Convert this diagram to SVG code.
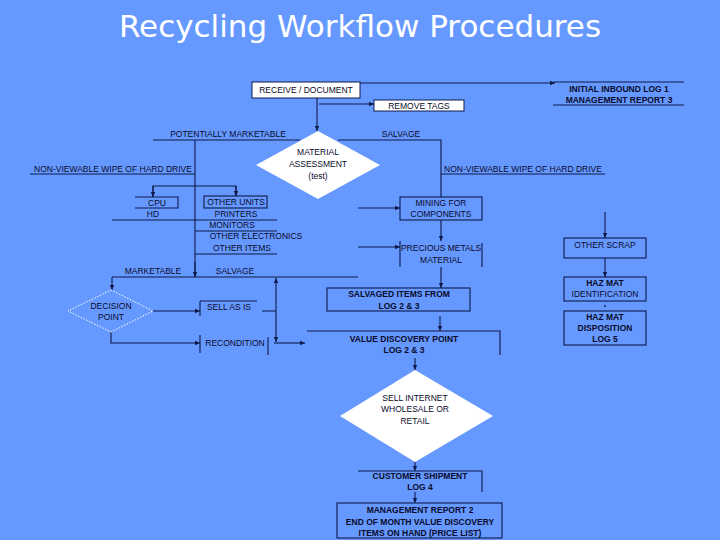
<svg xmlns="http://www.w3.org/2000/svg" width="720" height="540" viewBox="0 0 720 540">
<defs>
<marker id="a" markerWidth="6" markerHeight="6" refX="5" refY="3" orient="auto" markerUnits="userSpaceOnUse"><path d="M0,0.8 L5,3 L0,5.2z" fill="#0d1a4a"/></marker>
<style>
text{font-family:"Liberation Sans",Arial,sans-serif;font-size:8.5px;fill:#0a0a2a;text-anchor:middle}
.b{font-weight:bold}
.l{stroke:#0d1a4a;stroke-width:1.1;fill:none}
.ar{marker-end:url(#a)}
.bx{fill:none;stroke:#0d1a4a;stroke-width:1.1}
.wb{fill:#fff;stroke:#0d1a4a;stroke-width:1}
</style>
</defs>
<rect width="720" height="540" fill="#6699ff"/>
<text x="360" y="37" style="font-family:'DejaVu Sans',sans-serif;font-size:31px;fill:#fff">Recycling Workflow Procedures</text>
<g id="connectors">
<path class="l ar" d="M360,83 H555"/>
<path class="l" d="M553,82 H684 M553,105 H684"/>
<path class="l ar" d="M319,104 H374"/>
<path class="l ar" d="M317,98 V131"/>
<path class="l" d="M153,140 H300 M338,140 H441 V197"/>
<path class="l" d="M441,174 H605 M30,174 H195 M195,140 V277"/>
<path class="l" d="M153,197 V186 H236 V196"/>
<path class="l ar" d="M153,186 V197"/><path class="l ar" d="M236,186 V196"/>
<path class="l" d="M112,220 H195 M195,220 H277 M195,231 H277 M195,254 H277"/>
<path class="l" d="M112,277 H358"/>
<path class="l ar" d="M195,262 V277"/>
<path class="l ar" d="M112,277 V290"/>
<path class="l ar" d="M276,310 V278"/><path class="l ar" d="M276,310 V342"/>
<path class="l ar" d="M153,311 H200"/>
<path class="l" d="M200,301 V316 M200,301 H257 M262,311 H276"/>
<path class="l ar" d="M111,332 V343 H200"/>
<path class="l" d="M200,335 V353 M268,337 V355"/>
<path class="l ar" d="M274,343 H305"/>
<path class="l" d="M307,331 H500 V355"/>
<path class="l ar" d="M440,316 V331"/>
<path class="l ar" d="M358,208 H400"/>
<path class="l ar" d="M441,220 V241"/>
<path class="l ar" d="M358,247 H400"/>
<path class="l" d="M400,241 V267 M482,243 V267"/>
<path class="l ar" d="M441,267 V288"/>
<path class="l ar" d="M605,212 V238"/>
<path class="l ar" d="M605,258 V277"/>
<circle cx="605" cy="306" r="0.9" fill="#0d1a4a"/>
<path class="l ar" d="M415,358 V370"/>
<path class="l ar" d="M415,462 V471"/>
<path class="l" d="M358,471 H482 V492"/>
<path class="l ar" d="M415,492 V503"/>
</g>
<g id="receive"><rect class="wb" x="252" y="82" width="108" height="16"/><text x="306" y="93">RECEIVE / DOCUMENT</text></g>
<g id="inbound"><text class="b" x="619" y="92">INITIAL INBOUND LOG 1</text><text class="b" x="619" y="103">MANAGEMENT REPORT 3</text></g>
<g id="tags"><rect class="wb" x="374" y="100" width="90" height="11"/><text x="419" y="109">REMOVE TAGS</text></g>
<g id="assess"><path d="M318,131 L380,165 L318,199 L256,165z" fill="#fff"/><text x="318" y="155">MATERIAL</text><text x="318" y="167">ASSESSMENT</text><text x="318" y="179">(test)</text></g>
<g id="labels"><text x="228" y="137">POTENTIALLY MARKETABLE</text><text x="401" y="137">SALVAGE</text>
<text x="113" y="172">NON-VIEWABLE WIPE OF HARD DRIVE</text><text x="523" y="172">NON-VIEWABLE WIPE OF HARD DRIVE</text>
<text x="153" y="274">MARKETABLE</text><text x="235" y="274">SALVAGE</text></g>
<g id="cpu"><path class="l" d="M135,197 H178 V208 H135"/><text x="157" y="206">CPU</text><text x="153" y="217">HD</text></g>
<g id="units"><rect class="bx" x="204" y="196" width="63" height="12"/><text x="236" y="205">OTHER UNITS</text>
<text x="236" y="217">PRINTERS</text><text x="232" y="228">MONITORS</text><text x="256" y="239">OTHER ELECTRONICS</text><text x="242" y="251">OTHER ITEMS</text></g>
<g id="decision"><path d="M111,290 L153,311 L111,332 L68,311z" fill="none" stroke="#fff" stroke-dasharray="1.5,1.5"/><text x="111" y="309">DECISION</text><text x="111" y="320">POINT</text></g>
<g id="sell"><text x="229" y="310">SELL AS IS</text></g>
<g id="recond"><text x="235" y="346">RECONDITION</text></g>
<g id="mining"><rect class="bx" x="400" y="197" width="82" height="23"/><text x="441" y="206">MINING FOR</text><text x="441" y="217">COMPONENTS</text></g>
<g id="precious"><text x="441" y="251">PRECIOUS METALS</text><text x="441" y="263">MATERIAL</text></g>
<g id="salvaged"><rect class="bx" x="327" y="288" width="143" height="23"/><text class="b" x="399" y="297">SALVAGED ITEMS FROM</text><text class="b" x="399" y="309">LOG 2 &amp; 3</text></g>
<g id="value"><text class="b" x="404" y="342">VALUE DISCOVERY POINT</text><text class="b" x="404" y="353">LOG 2 &amp; 3</text></g>
<g id="scrap"><rect class="bx" x="564" y="238" width="82" height="20"/><text x="605" y="248">OTHER SCRAP</text></g>
<g id="hazid"><rect class="bx" x="564" y="277" width="82" height="24"/><text class="b" x="605" y="286">HAZ MAT</text><text x="605" y="297">IDENTIFICATION</text></g>
<g id="hazdisp"><rect class="bx" x="564" y="311" width="82" height="34"/><text class="b" x="605" y="320">HAZ MAT</text><text class="b" x="605" y="331">DISPOSITION</text><text class="b" x="605" y="342">LOG 5</text></g>
<g id="sellnet"><path d="M415,370 L493,416 L415,462 L340,416z" fill="#fff"/><text x="415" y="401">SELL INTERNET</text><text x="415" y="412">WHOLESALE OR</text><text x="415" y="424">RETAIL</text></g>
<g id="ship"><text class="b" x="420" y="479">CUSTOMER SHIPMENT</text><text class="b" x="420" y="490">LOG 4</text></g>
<g id="mgmt"><rect class="bx" x="337" y="503" width="165" height="35"/><text class="b" x="420" y="513">MANAGEMENT REPORT 2</text><text class="b" x="420" y="525">END OF MONTH VALUE DISCOVERY</text><text class="b" x="420" y="536">ITEMS ON HAND (PRICE LIST)</text></g>
</svg>
